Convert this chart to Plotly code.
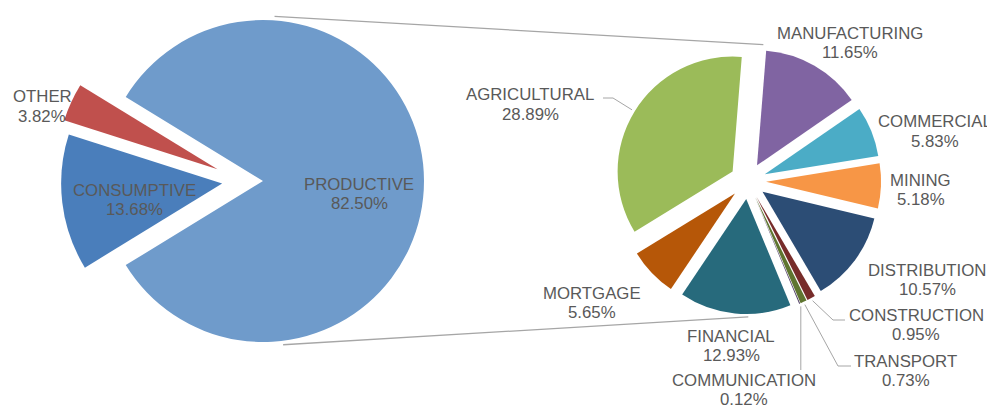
import math
import plotly.graph_objects as go

# ---------------- data ----------------
left_labels = ["PRODUCTIVE", "CONSUMPTIVE", "OTHER"]
left_values = [82.50, 13.68, 3.82]
left_colors = ["#6f9bcb", "#4a7ebb", "#c0504d"]

right_labels = ["AGRICULTURAL", "MANUFACTURING", "COMMERCIAL", "MINING",
                "DISTRIBUTION", "CONSTRUCTION", "TRANSPORT", "COMMUNICATION",
                "FINANCIAL", "MORTGAGE"]
right_values = [28.89, 11.65, 5.83, 5.18, 10.57, 0.95, 0.73, 0.12, 12.93, 5.65]
right_colors = ["#9bbb59", "#8064a2", "#4bacc6", "#f79646", "#2c4d75",
                "#772c2a", "#5f7530", "#4d3b62", "#276a7c", "#b65708"]

# ---------------- layout constants (reference-pixel space) ----------------
OFF = 8                      # page body margin of the viewer
W, H = 995 - OFF, 410 - OFF  # visible figure area
TXT = "#595959"
FAMILY = "Liberation Sans, Arial, sans-serif"
FSIZE = 16.8
LINE_GAP = 19.5

LEFT_C = (243.0, 181.0)
LEFT_R = 161.0
LEFT_EXPLODE = [20.0, 21.0, 28.0]

RIGHT_C = (748.0, 181.0)
RIGHT_R = 115.0
RIGHT_PULL = 0.157
RIGHT_ROT = 238.5

# label block positions: (x centre, y centre of first line)
LABEL_POS = {
    "PRODUCTIVE": (359, 184), "CONSUMPTIVE": (134.5, 190), "OTHER": (42, 96.5),
    "AGRICULTURAL": (530, 95), "MANUFACTURING": (850, 33.5),
    "COMMERCIAL": (935, 121.5), "MINING": (920.5, 180),
    "DISTRIBUTION": (927, 270), "CONSTRUCTION": (916, 315),
    "TRANSPORT": (905.5, 361), "COMMUNICATION": (743.5, 380),
    "FINANCIAL": (731, 336), "MORTGAGE": (592, 293),
}
# leader lines: intermediate / end points, starting at the slice edge
LEADERS = {
    "AGRICULTURAL": [(613, 98), (603, 98)],
    "CONSTRUCTION": [(833, 320), (845, 320)],
    "TRANSPORT": [(838, 366), (851, 366)],
    "COMMUNICATION": [(None, 370)],
}


def unit(theta_deg):
    t = math.radians(theta_deg)
    return math.sin(t), -math.cos(t)


def fx(x):
    return (x - OFF) / W


def fy(y):
    return 1 - (y - OFF) / H


def domain_for(cx, cy, half):
    return dict(x=[fx(cx - half), fx(cx + half)], y=[fy(cy + half), fy(cy - half)])


def mid_angles(values, rot):
    tot = sum(values)
    out, cum = [], 0.0
    for v in values:
        out.append(rot + 360.0 * (cum + v / 2) / tot)
        cum += v
    return out


fig = go.Figure()

# ---- left pie (PRODUCTIVE centred at 3 o'clock), one trace per exploded slice ----
total_left = sum(left_values)
left_rot = 90.0 - 180.0 * left_values[0] / total_left
left_mids = mid_angles(left_values, left_rot)
slice_centers = []
for i, v in enumerate(left_values):
    ux, uy = unit(left_mids[i])
    cx = LEFT_C[0] + LEFT_EXPLODE[i] * ux
    cy = LEFT_C[1] + LEFT_EXPLODE[i] * uy
    slice_centers.append((cx, cy))
    colors = ["rgba(0,0,0,0)"] * len(left_values)
    colors[i] = left_colors[i]
    fig.add_trace(go.Pie(
        labels=left_labels, values=left_values, sort=False,
        direction="clockwise", rotation=left_rot,
        marker=dict(colors=colors, line=dict(width=0)),
        textinfo="none", domain=domain_for(cx, cy, LEFT_R),
        hoverinfo="skip", showlegend=False,
    ))

# ---- right pie: breakdown of PRODUCTIVE ----
half_r = RIGHT_R * (1 + RIGHT_PULL)
fig.add_trace(go.Pie(
    labels=right_labels, values=right_values, sort=False,
    direction="clockwise", rotation=RIGHT_ROT,
    pull=[RIGHT_PULL] * len(right_values),
    marker=dict(colors=right_colors, line=dict(width=0)),
    textinfo="none",
    domain=domain_for(RIGHT_C[0], RIGHT_C[1], half_r),
    hovertemplate="%{label}: %{value:.2f}%<extra></extra>", showlegend=False,
))
right_mids = mid_angles(right_values, RIGHT_ROT)

# ---- data labels ----
for lab, val in list(zip(left_labels, left_values)) + list(zip(right_labels, right_values)):
    x, y = LABEL_POS[lab]
    for k, txt in enumerate([lab, f"{val:.2f}%"]):
        fig.add_annotation(x=fx(x), y=fy(y + k * LINE_GAP), xref="paper", yref="paper",
                           text=txt, showarrow=False, xanchor="center", yanchor="middle",
                           font=dict(family=FAMILY, size=FSIZE, color=TXT))

# ---- leader lines ----
for lab, pts in LEADERS.items():
    i = right_labels.index(lab)
    ux, uy = unit(right_mids[i])
    edge = RIGHT_R * (1 + RIGHT_PULL) + 3
    sx, sy = RIGHT_C[0] + edge * ux, RIGHT_C[1] + edge * uy
    path_pts = [(sx, sy)] + [((sx if px is None else px), py) for px, py in pts]
    path = "M " + " L ".join(f"{fx(px)},{fy(py)}" for px, py in path_pts)
    fig.add_shape(type="path", xref="paper", yref="paper", path=path,
                  line=dict(color="#a6a6a6", width=1))


# ---- connector lines between the two pies ----
def on_circle(c, r, ang):
    ux, uy = unit(ang)
    return c[0] + r * ux, c[1] + r * uy


def pulled_center(i):
    ux, uy = unit(right_mids[i])
    d = RIGHT_PULL * RIGHT_R
    return RIGHT_C[0] + d * ux, RIGHT_C[1] + d * uy


p_c = slice_centers[0]
p1 = on_circle(p_c, LEFT_R + 4, 4)
q1 = on_circle(pulled_center(1), RIGHT_R + 6, 3)
p2 = on_circle(p_c, LEFT_R + 4, 173)
q2 = on_circle(pulled_center(8), RIGHT_R + 3, 179)
for a, b in [(p1, q1), (p2, q2)]:
    fig.add_shape(type="line", xref="paper", yref="paper",
                  x0=fx(a[0]), y0=fy(a[1]), x1=fx(b[0]), y1=fy(b[1]),
                  line=dict(color="#a6a6a6", width=1.3), layer="below")

fig.update_layout(
    width=W, height=H,
    margin=dict(l=0, r=0, t=0, b=0, autoexpand=False),
    paper_bgcolor="white", plot_bgcolor="white",
    showlegend=False,
)

fig.write_html("out.html")
